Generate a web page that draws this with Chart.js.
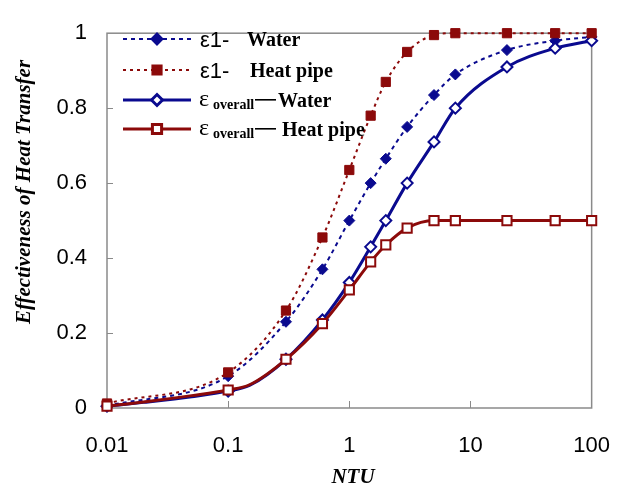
<!DOCTYPE html>
<html lang="en">
<head>
    <meta charset="UTF-8">
    <title>Effectiveness vs NTU</title>
    <style>
        html, body { margin: 0; padding: 0; background: #fff; }
        #wrap { width: 635px; height: 492px; }
    </style>
</head>
<body>
    <div id="wrap"><canvas id="myChart" width="635" height="492"></canvas></div>

    <script src="https://cdn.jsdelivr.net/npm/chart.js"></script>
    <script>
        // values
        const ntu = [0.01, 0.1, 0.3, 0.6, 1, 1.5, 2, 3, 5, 7.5, 20, 50, 100];
        const e1Water = [0.005, 0.085, 0.23, 0.37, 0.50, 0.60, 0.665, 0.75, 0.835, 0.89, 0.955, 0.98, 0.99];
        const e1HeatPipe = [0.012, 0.095, 0.26, 0.455, 0.635, 0.78, 0.87, 0.95, 0.995, 1.0, 1.0, 1.0, 1.0];

        // the solid curves also pass through a few points without markers
        const ntuOverall = [0.01, 0.02, 0.05, 0.1, 0.15, 0.3, 0.6, 1, 1.5, 2, 3, 5, 7.5, 20, 50, 100];
        const eOverallWater = [0.005, 0.015, 0.03, 0.045, 0.06, 0.13, 0.235, 0.335, 0.43, 0.50, 0.60, 0.71, 0.80, 0.91, 0.96, 0.98];
        const eOverallHeatPipe = [0.005, 0.016, 0.033, 0.048, 0.062, 0.13, 0.225, 0.315, 0.39, 0.435, 0.48, 0.50, 0.50, 0.50, 0.50, 0.50];

        const xTicks = [0.01, 0.1, 1, 10, 100];
        const yTicks = [0, 0.2, 0.4, 0.6, 0.8, 1];

        const BLUE = '#0a0a8f';
        const RED = '#8c0a0a';
        const GREY = '#8a8a8a';
        const SANS = "'Liberation Sans', Arial, sans-serif";
        const SERIF = "'Liberation Serif', 'Times New Roman', serif";

        const toPoints = (xs, ys) => xs.map((x, i) => ({ x: x, y: ys[i] }));
        const markerRadius = r => c => (c.raw && ntu.includes(c.raw.x)) ? r : 0;

        const datasets = [
            {
                label: 'ε1- Water',
                data: toPoints(ntu, e1Water),
                borderColor: BLUE, backgroundColor: BLUE,
                borderWidth: 2, borderDash: [4, 4],
                pointStyle: 'rectRot', pointRadius: 5.5, pointBorderWidth: 1,
                order: 4
            },
            {
                label: 'ε1- Heat pipe',
                data: toPoints(ntu, e1HeatPipe),
                borderColor: RED, backgroundColor: RED,
                borderWidth: 2, borderDash: [3, 4],
                pointStyle: 'rect', pointRadius: 6.5, pointBorderWidth: 1,
                order: 2
            },
            {
                label: 'εoverall— Water',
                data: toPoints(ntuOverall, eOverallWater),
                borderColor: BLUE, backgroundColor: '#fff',
                borderWidth: 3,
                pointStyle: 'rectRot', pointRadius: markerRadius(5.5), pointBorderWidth: 2,
                order: 3
            },
            {
                label: 'εoverall— Heat pipe',
                data: toPoints(ntuOverall, eOverallHeatPipe),
                borderColor: RED, backgroundColor: '#fff',
                borderWidth: 3,
                pointStyle: 'rect', pointRadius: markerRadius(6.5), pointBorderWidth: 2,
                order: 1
            }
        ];

        // frame + inward tick marks, drawn under the data
        const framePlugin = {
            id: 'frame',
            beforeDatasetsDraw(chart) {
                const { ctx, chartArea: a, scales } = chart;
                ctx.save();
                ctx.strokeStyle = GREY;
                ctx.lineWidth = 1.5;
                ctx.strokeRect(a.left, a.top, a.right - a.left, a.bottom - a.top);
                ctx.lineWidth = 1;
                ctx.beginPath();
                yTicks.slice(1, -1).forEach(v => {
                    const y = Math.round(scales.y.getPixelForValue(v)) + 0.5;
                    ctx.moveTo(a.left, y); ctx.lineTo(a.left + 6, y);
                });
                xTicks.slice(1, -1).forEach(v => {
                    const x = Math.round(scales.x.getPixelForValue(v)) + 0.5;
                    ctx.moveTo(x, a.bottom); ctx.lineTo(x, a.bottom - 7);
                });
                ctx.stroke();
                ctx.restore();
            }
        };

        // legend with mixed fonts, and axis titles
        const legendPlugin = {
            id: 'customLegend',
            afterDraw(chart) {
                const ctx = chart.ctx;
                const rows = [39, 70, 100, 129];
                const radii = [5.5, 6.5, 5.5, 6.5];
                ctx.save();
                chart.data.datasets.forEach((ds, i) => {
                    const y = rows[i];
                    ctx.strokeStyle = ds.borderColor;
                    ctx.lineWidth = ds.borderWidth;
                    ctx.setLineDash(ds.borderDash || []);
                    ctx.beginPath();
                    ctx.moveTo(123, y); ctx.lineTo(191, y);
                    ctx.stroke();
                    ctx.setLineDash([]);
                    ctx.fillStyle = ds.backgroundColor;
                    ctx.strokeStyle = ds.borderColor;
                    Chart.helpers.drawPoint(ctx, {
                        pointStyle: ds.pointStyle,
                        radius: radii[i],
                        rotation: 0,
                        borderWidth: ds.pointBorderWidth
                    }, 157, y);
                });

                ctx.fillStyle = '#000';
                ctx.textBaseline = 'alphabetic';
                ctx.textAlign = 'left';
                // rows 1 and 2
                ctx.font = '22px ' + SANS;
                ctx.fillText('ε1-', 200, 47);
                ctx.fillText('ε1-', 200, 78);
                ctx.font = 'bold 20px ' + SERIF;
                ctx.fillText('Water', 247, 46);
                ctx.fillText('Heat pipe', 250, 77);
                // rows 3 and 4
                [[100, 'Water', 278], [129, 'Heat pipe', 282]].forEach(([y, name, nx]) => {
                    ctx.font = '24px ' + SERIF;
                    ctx.fillText('ε', 199, y + 6);
                    ctx.font = 'bold 14px ' + SERIF;
                    ctx.fillText('overall', 213, y + 9);
                    ctx.fillRect(255, y - 1, 21, 1.6);
                    ctx.font = 'bold 20px ' + SERIF;
                    ctx.fillText(name, nx, y + 7);
                });

                // axis titles
                ctx.font = 'italic bold 21px ' + SERIF;
                ctx.textAlign = 'center';
                ctx.textBaseline = 'middle';
                ctx.fillText('NTU', 353, 478);
                ctx.translate(25, 192);
                ctx.rotate(-Math.PI / 2);
                ctx.fillText('Effectiveness of Heat Transfer', 0, 0);
                ctx.restore();
            }
        };

        new Chart(document.getElementById('myChart'), {
            type: 'line',
            data: { datasets: datasets },
            options: {
                responsive: false,
                animation: false,
                layout: { padding: { top: 15, right: 33, left: 0, bottom: 0 } },
                plugins: { legend: { display: false }, tooltip: { enabled: false } },
                elements: { line: { cubicInterpolationMode: 'monotone' } },
                datasets: { line: { clip: false } },
                scales: {
                    x: {
                        type: 'logarithmic',
                        min: 0.01, max: 100,
                        afterBuildTicks: s => { s.ticks = xTicks.map(v => ({ value: v })); },
                        afterFit: s => { s.height = 84; },
                        grid: { display: false, drawTicks: false },
                        border: { display: false },
                        ticks: {
                            padding: 25,
                            color: '#000',
                            font: { family: SANS, size: 22 },
                            maxRotation: 0,
                            callback: v => String(v)
                        }
                    },
                    y: {
                        min: 0, max: 1,
                        afterBuildTicks: s => { s.ticks = yTicks.map(v => ({ value: v })); },
                        afterFit: s => { s.width = 107; },
                        grid: { display: false, drawTicks: false },
                        border: { display: false },
                        ticks: {
                            padding: 20,
                            color: '#000',
                            font: { family: SANS, size: 22 },
                            callback: v => String(v)
                        }
                    }
                }
            },
            plugins: [framePlugin, legendPlugin]
        });
    </script>
</body>
</html>
